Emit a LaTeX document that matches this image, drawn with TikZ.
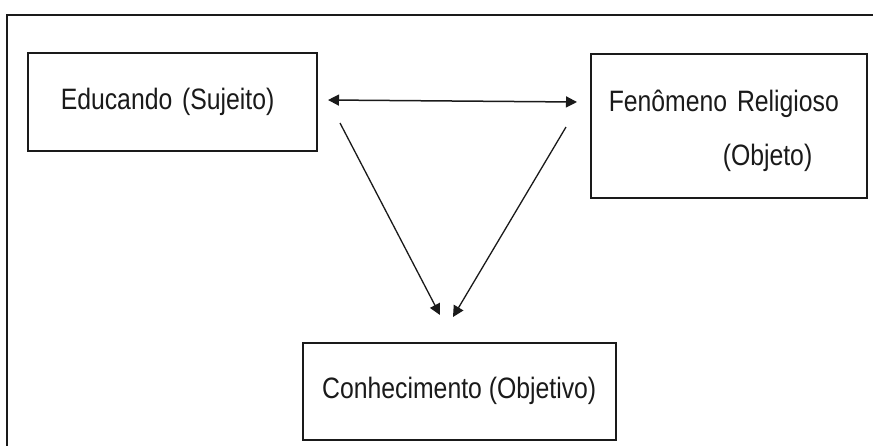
\documentclass[tikz,border=0pt]{standalone}
\usepackage{fontspec}
\setmainfont{Liberation Sans}[FakeStretch=0.84]
\usetikzlibrary{arrows.meta}
\definecolor{ink}{HTML}{1A1A1A}
\tikzset{
  boxnode/.style={draw=ink, line width=1.5pt, rectangle, inner sep=0pt, anchor=north west,
    font=\fontsize{29.5}{35.4}\selectfont, text=ink},
  tip/.tip={Triangle[length=11pt,width=11pt]},
  link/.style={draw=ink, line width=1.3pt, -tip},
  dlink/.style={draw=ink, line width=1.5pt, tip-tip},
  frame/.style={draw=ink, line width=1.6pt}
}
\begin{document}
\begin{tikzpicture}[x=1pt,y=-1pt]
\useasboundingbox (0,0) rectangle (873,445);
\fill[white] (0,0) rectangle (873,445);
\draw[frame] (7,460) -- (7,15) -- (890,15);

\node[boxnode, minimum width=289pt, minimum height=98pt, text width=223pt, align=left, inner xsep=33pt] (edu) at (27,52) {Educando (Sujeito)};

\node[boxnode, minimum width=276pt, minimum height=144pt, text width=240pt, align=left, inner xsep=18pt] (fen) at (590,53)
  {\rule{0pt}{32pt}Fenômeno Religioso\\[18.6pt]\hspace*{114pt}(Objeto)};

\node[boxnode, minimum width=313pt, minimum height=97pt, align=center] (con) at (302,342) {Conhecimento (Objetivo)};

\coordinate (ha) at (328,100);
\coordinate (hb) at (577,102);
\coordinate (la) at (340,123);
\coordinate (lb) at (440,315);
\coordinate (ra) at (566,127);
\coordinate (rb) at (453,317);

\draw[dlink] (ha) -- (hb);
\draw[link] (la) -- (lb);
\draw[link] (ra) -- (rb);
\end{tikzpicture}
\end{document}
